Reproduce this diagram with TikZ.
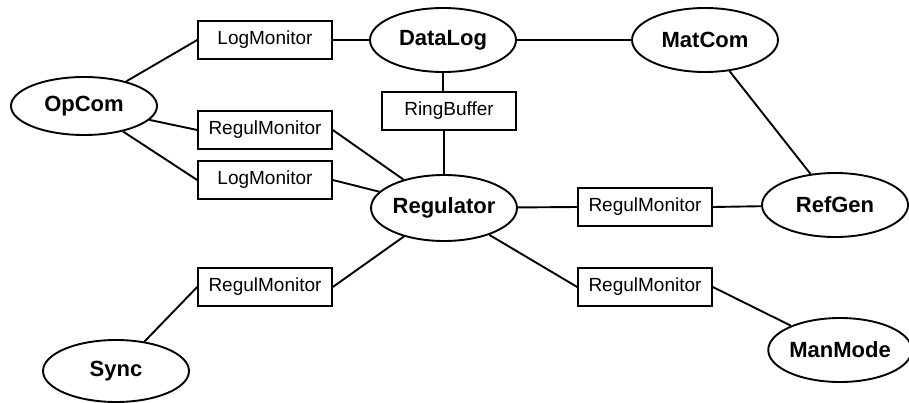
\documentclass[tikz,border=0pt]{standalone}
\usepackage{fontspec}
\setmainfont{Liberation Sans}
\usetikzlibrary{shapes.geometric}
\begin{document}
\begin{tikzpicture}[x=1pt,y=-1pt,
  proc/.style={draw,line width=1.9pt,ellipse,inner sep=0pt,minimum width=146pt,minimum height=62pt,font=\fontsize{22}{24}\selectfont\bfseries},
  mon/.style={draw,line width=1.6pt,rectangle,inner sep=0pt,minimum width=134pt,minimum height=38pt,font=\fontsize{19}{22}\selectfont},
  conn/.style={line width=1.9pt}]
\useasboundingbox (0,0) rectangle (909,403);
\node[proc,minimum height=58pt] (opcom) at (84,106) {OpCom};
\node[proc,minimum height=64pt] (datalog) at (443,40) {DataLog};
\node[proc,minimum height=64pt] (matcom) at (705,40) {MatCom};
\node[proc,minimum height=66pt] (reg) at (444,208) {Regulator};
\node[proc,minimum height=64pt] (refgen) at (835,205) {RefGen};
\node[proc] (sync) at (116,371) {Sync};
\node[proc,minimum width=140pt,minimum height=64pt] (manmode) at (840,350) {ManMode};
\node[mon] (lm1) at (265,40) {LogMonitor};
\node[mon] (rm1) at (265,130) {RegulMonitor};
\node[mon] (lm2) at (265,180) {LogMonitor};
\node[mon] (rb) at (449,111) {RingBuffer};
\node[mon] (rmr) at (645,207) {RegulMonitor};
\node[mon] (rms) at (265,287) {RegulMonitor};
\node[mon] (rmm) at (645,287) {RegulMonitor};
\draw[conn] (opcom) -- (lm1.west);
\draw[conn] (lm1.east) -- (datalog);
\draw[conn] (datalog) -- (matcom);
\draw[conn] (datalog.south) -- (datalog.south |- rb.north);
\draw[conn] (reg.north |- rb.south) -- (reg.north);
\draw[conn] (matcom) -- (refgen);
\draw[conn] (opcom) -- (rm1.west);
\draw[conn] (rm1.east) -- (reg);
\draw[conn] (opcom) -- (lm2.west);
\draw[conn] (lm2.east) -- (reg);
\draw[conn] (reg) -- (rmr.west);
\draw[conn] (rmr.east) -- (refgen);
\draw[conn] (reg) -- (rms.east);
\draw[conn] (rms.west) -- (sync);
\draw[conn] (reg) -- (rmm.west);
\draw[conn] (rmm.east) -- (manmode);
\end{tikzpicture}
\end{document}
